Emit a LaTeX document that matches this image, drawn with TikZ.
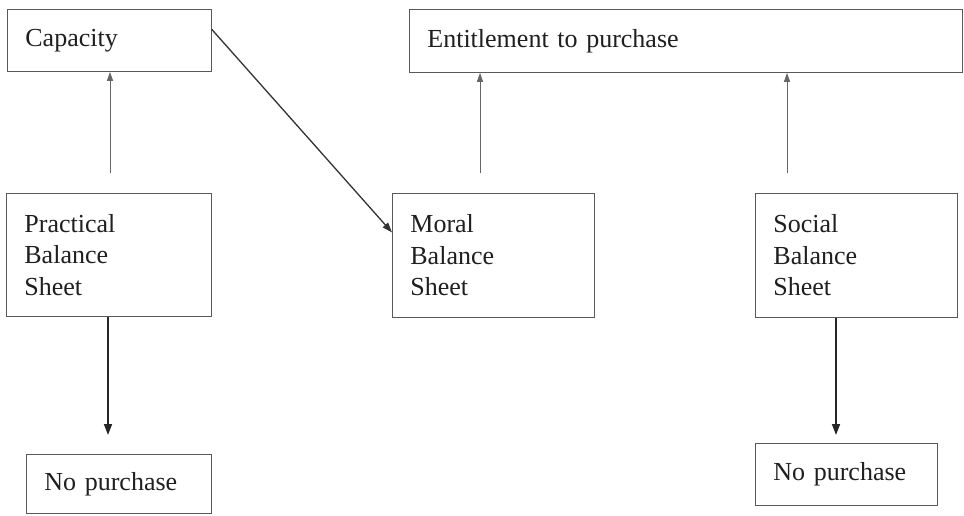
\documentclass[tikz,border=0pt]{standalone}
\usepackage{fontspec}
\setmainfont{Liberation Serif}
\usetikzlibrary{arrows.meta}
\begin{document}
\begin{tikzpicture}[x=1pt,y=-1pt,
  box/.style={draw=black!65, line width=0.8pt, anchor=north west, align=left,
    inner xsep=18pt, inner ysep=0pt, text=black!88,
    font=\fontsize{26}{31.5}\selectfont},
  uparr/.style={draw=black!60, line width=1pt, -{Triangle[length=9pt,width=6pt]}},
  dnarr/.style={draw=black!85, line width=1.6pt, -{Triangle[length=11pt,width=8pt]}},
  diagarr/.style={draw=black!80, line width=1.3pt, -{Triangle[length=10pt,width=7pt]}}]
\useasboundingbox (0,0) rectangle (964,515);
\fill[white] (0,0) rectangle (964,515);

\node[box, minimum width=204pt, minimum height=62pt, text width=168pt] (cap) at (7,9) {Capacity};
\node[box, minimum width=553pt, minimum height=63pt, text width=517pt] (ent) at (409,9) {Entitlement to purchase};
\node[box, minimum width=205pt, minimum height=123pt, text width=169pt] (prac) at (6,193) {Practical\\Balance\\Sheet};
\node[box, minimum width=202pt, minimum height=124pt, text width=166pt] (moral) at (392,193) {Moral\\Balance\\Sheet};
\node[box, minimum width=202pt, minimum height=124pt, text width=166pt] (soc) at (755,193) {Social\\Balance\\Sheet};
\node[box, minimum width=185pt, minimum height=59pt, text width=149pt] (np1) at (26,454) {No purchase};
\node[box, minimum width=182pt, minimum height=62pt, text width=146pt] (np2) at (755,443) {No purchase};

\coordinate (u1) at (110,173);
\coordinate (u2) at (480,173);
\coordinate (u3) at (787,173);
\coordinate (d1) at (108,435);
\coordinate (d2) at (836,435);

\draw[uparr] (u1) -- (u1 |- cap.south);
\draw[uparr] (u2) -- (u2 |- ent.south);
\draw[uparr] (u3) -- (u3 |- ent.south);
\draw[dnarr] (d1 |- prac.south) -- (d1);
\draw[dnarr] (d2 |- soc.south) -- (d2);
\draw[diagarr] ([yshift=11pt]cap.east) -- ([yshift=23pt]moral.west);
\end{tikzpicture}
\end{document}
